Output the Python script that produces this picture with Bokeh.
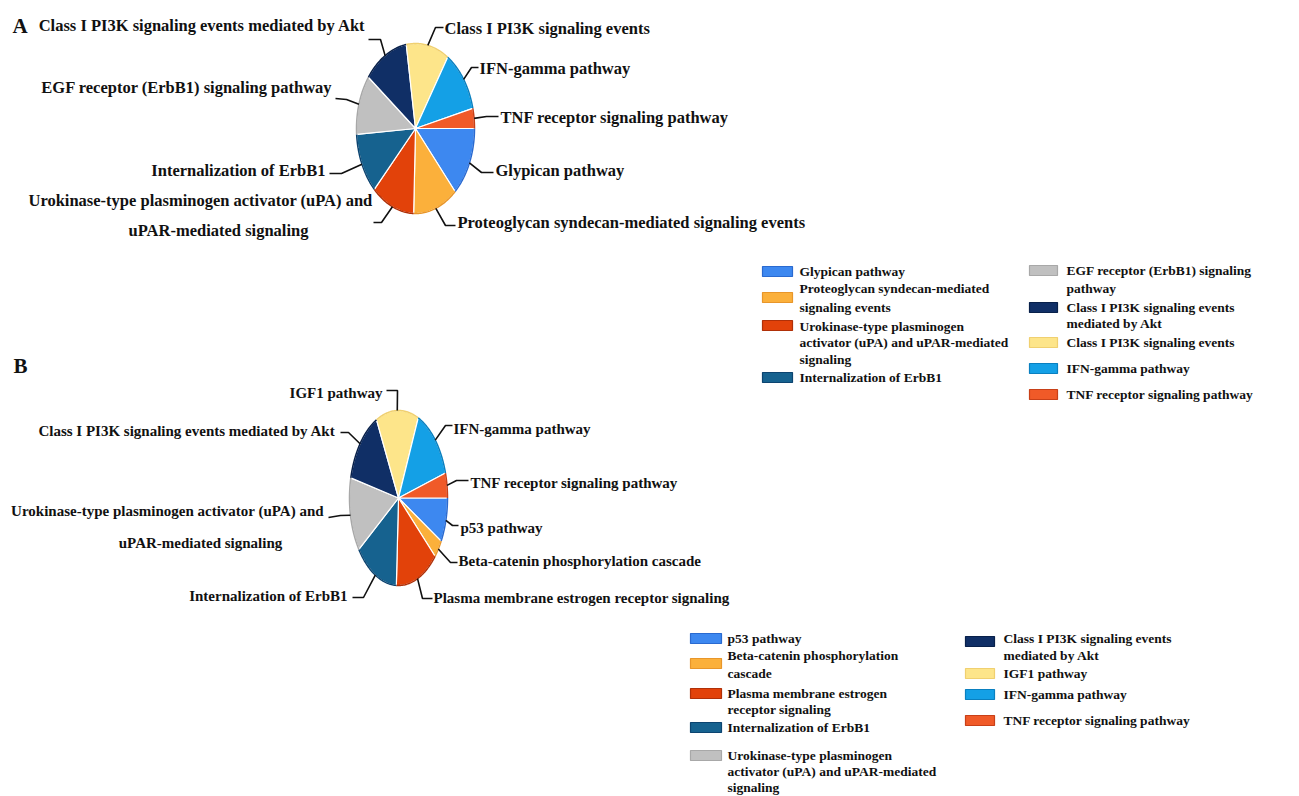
import numpy as np
from bokeh.plotting import figure
from bokeh.models import Range1d
from bokeh.embed import file_html
from bokeh.resources import INLINE
from bokeh.core.properties import value

# ---------------- data ----------------
pathways_a = ["Glypican pathway",
              "Proteoglycan syndecan-mediated signaling events",
              "Urokinase-type plasminogen activator (uPA) and uPAR-mediated signaling",
              "Internalization of ErbB1",
              "EGF receptor (ErbB1) signaling pathway",
              "Class I PI3K signaling events mediated by Akt",
              "Class I PI3K signaling events",
              "IFN-gamma pathway",
              "TNF receptor signaling pathway"]
values_a = [13.3, 12.2, 11.8, 11.6, 11.4, 12.2, 11.7, 12.0, 3.8]

pathways_b = ["p53 pathway",
              "Beta-catenin phosphorylation cascade",
              "Plasma membrane estrogen receptor signaling",
              "Internalization of ErbB1",
              "Urokinase-type plasminogen activator (uPA) and uPAR-mediated signaling",
              "Class I PI3K signaling events mediated by Akt",
              "IGF1 pathway",
              "IFN-gamma pathway",
              "TNF receptor signaling pathway"]
values_b = [8.2, 3.4, 14.1, 14.3, 13.7, 13.9, 14.0, 13.8, 4.6]

palette = ["#3d88f0", "#fbb03b", "#e2420a", "#16628f", "#c0c0c0",
           "#102f66", "#fde58a", "#14a0e6", "#f05a28"]
borders = ["#2a6ad0", "#e8962a", "#b03008", "#0c4470", "#a8a8a8",
           "#08204a", "#f0d070", "#0a80c0", "#c84018"]

# pie-side label text (lines) for each slice
labels_a = [["Glypican pathway"],
            ["Proteoglycan syndecan-mediated signaling events"],
            ["Urokinase-type plasminogen activator (uPA) and", "uPAR-mediated signaling"],
            ["Internalization of ErbB1"],
            ["EGF receptor (ErbB1) signaling pathway"],
            ["Class I PI3K signaling events mediated by Akt"],
            ["Class I PI3K signaling events"],
            ["IFN-gamma pathway"],
            ["TNF receptor signaling pathway"]]
labels_b = [["p53 pathway"],
            ["Beta-catenin phosphorylation cascade"],
            ["Plasma membrane estrogen receptor signaling"],
            ["Internalization of ErbB1"],
            ["Urokinase-type plasminogen activator (uPA) and", "uPAR-mediated signaling"],
            ["Class I PI3K signaling events mediated by Akt"],
            ["IGF1 pathway"],
            ["IFN-gamma pathway"],
            ["TNF receptor signaling pathway"]]

# legend text (wrapped lines)
legend_a = [["Glypican pathway"],
            ["Proteoglycan syndecan-mediated", "signaling events"],
            ["Urokinase-type plasminogen", "activator (uPA) and uPAR-mediated", "signaling"],
            ["Internalization of ErbB1"],
            ["EGF receptor (ErbB1) signaling", "pathway"],
            ["Class I PI3K signaling events", "mediated by Akt"],
            ["Class I PI3K signaling events"],
            ["IFN-gamma pathway"],
            ["TNF receptor signaling pathway"]]
legend_b = [["p53 pathway"],
            ["Beta-catenin phosphorylation", "cascade"],
            ["Plasma membrane estrogen", "receptor signaling"],
            ["Internalization of ErbB1"],
            ["Urokinase-type plasminogen", "activator (uPA) and uPAR-mediated", "signaling"],
            ["Class I PI3K signaling events", "mediated by Akt"],
            ["IGF1 pathway"],
            ["IFN-gamma pathway"],
            ["TNF receptor signaling pathway"]]

# ---------------- layout ----------------
W, H = 1299, 796
FONT = "Liberation Serif"

pie_a = dict(cx=415, cy=128, rx=59, ry=85)
pie_b = dict(cx=398, cy=497.5, rx=49, ry=87.5)

# per slice: (text anchors per line [(x, y)], align, leader start, leader elbow)
lay_a = [([(495, 170)], "left", (493, 172), (481, 172)),
         ([(457, 222)], "left", (455, 225), (445, 225)),
         ([(200, 200), (218, 230)], "center", (373, 222), (381, 222)),
         ([(325, 170)], "right", (329, 173), (341, 173)),
         ([(332, 87)], "right", (335, 98), (346, 99)),
         ([(365, 25)], "right", (368, 39), (380, 39)),
         ([(444, 28)], "left", (443, 27), (435, 27)),
         ([(479, 68)], "left", (478, 67), (471, 67)),
         ([(500, 117)], "left", (498, 116), (486, 116))]
lay_b = [([(460, 527)], "left", (458, 525), (452, 525)),
         ([(458, 560)], "left", (457, 562), (450, 562)),
         ([(433, 597)], "left", (432, 598), (422, 598)),
         ([(347, 595)], "right", (352, 597), (363, 597)),
         ([(167, 510), (200, 542)], "center", (328, 517), (340, 515)),
         ([(335, 430)], "right", (340, 432), (348, 432)),
         ([(382, 392)], "right", (386, 390), (397, 390)),
         ([(453, 428)], "left", (452, 425), (445, 425)),
         ([(470, 482)], "left", (468, 480), (456, 480))]

# legend: (swatch x center, swatch width, text x, swatch y, line ys)
leg_a = [(777, 30, 799, 271, [271]),
         (777, 30, 799, 297, [288, 307]),
         (777, 30, 799, 325, [326, 342, 359]),
         (777, 30, 799, 377, [377]),
         (1043, 28, 1066, 270, [270, 288]),
         (1043, 28, 1066, 307, [307, 323]),
         (1043, 28, 1066, 342, [342]),
         (1043, 28, 1066, 368, [368]),
         (1043, 28, 1066, 394, [394])]
leg_b = [(705.5, 31, 727, 638, [638]),
         (705.5, 31, 727, 663, [655, 673]),
         (705.5, 31, 727, 693, [693, 709]),
         (705.5, 31, 727, 727, [727]),
         (705.5, 31, 727, 755, [755, 771, 787]),
         (979.5, 29, 1003, 641, [638, 655]),
         (979.5, 29, 1003, 673, [673]),
         (979.5, 29, 1003, 694, [694]),
         (979.5, 29, 1003, 720, [720])]

p = figure(width=W, height=H, output_backend="svg", toolbar_location=None,
           x_range=Range1d(0, W), y_range=Range1d(H, 0),
           x_axis_location=None, y_axis_location=None, min_border=0)
p.xgrid.visible = False
p.ygrid.visible = False
p.outline_line_color = None
p.background_fill_color = "white"


def wedges(vals, cx, cy, rx, ry):
    v = np.asarray(vals, float)
    edges = np.concatenate([[0.0], np.cumsum(v)]) / v.sum() * 2 * np.pi
    xs, ys, mids = [], [], []
    for a0, a1 in zip(edges[:-1], edges[1:]):
        t = np.linspace(a0, a1, max(int((a1 - a0) / 0.02), 2) + 1)
        xs.append([cx] + list(cx + rx * np.cos(t)))
        ys.append([cy] + list(cy + ry * np.sin(t)))
        mids.append((a0 + a1) / 2)
    return xs, ys, np.array(mids)


def draw_pie(vals, geo, labels, lay, size):
    xs, ys, mids = wedges(vals, **geo)
    p.patches(xs, ys, fill_color=palette, line_color="white", line_width=1.2)
    # rim outline in slightly darker shades
    for i in range(len(vals)):
        p.line(xs[i][1:], ys[i][1:], line_color=borders[i], line_width=1.5)
    lx, ly = [], []
    tx, ty, tt, ta = [], [], [], []
    for i, (anchors, align, start, elbow) in enumerate(lay):
        rim = (geo["cx"] + geo["rx"] * np.cos(mids[i]), geo["cy"] + geo["ry"] * np.sin(mids[i]))
        lx.append([start[0], elbow[0], rim[0]])
        ly.append([start[1], elbow[1], rim[1]])
        for (ax, ay), line in zip(anchors, labels[i]):
            tx.append(ax); ty.append(ay); tt.append(line); ta.append(align)
    p.multi_line(lx, ly, line_color="#111111", line_width=1.6)
    p.text(x=tx, y=ty, text=tt, text_align=ta, text_baseline="middle",
           text_font=value(FONT), text_font_style="bold", text_font_size=size,
           text_color="#111111")


def draw_legend(legend_lines, leg):
    sx, sy, sw = [], [], []
    tx, ty, tt = [], [], []
    for i, (scx, w, txx, swy, lys) in enumerate(leg):
        sx.append(scx); sy.append(swy); sw.append(w)
        for yy, line in zip(lys, legend_lines[i]):
            tx.append(txx); ty.append(yy); tt.append(line)
    p.rect(x=sx, y=sy, width=sw, height=10, fill_color=palette, line_color=borders, line_width=1.2)
    p.text(x=tx, y=ty, text=tt, text_align="left", text_baseline="middle",
           text_font=value(FONT), text_font_style="bold", text_font_size="13.5px",
           text_color="#111111")


draw_pie(values_a, pie_a, labels_a, lay_a, "16.5px")
draw_pie(values_b, pie_b, labels_b, lay_b, "15px")
draw_legend(legend_a, leg_a)
draw_legend(legend_b, leg_b)

p.text(x=[12, 13], y=[25, 365], text=["A", "B"], text_align="left", text_baseline="middle",
       text_font=value(FONT), text_font_style="bold", text_font_size="21px", text_color="#111111")

open("out.html", "w").write(file_html(p, INLINE))
